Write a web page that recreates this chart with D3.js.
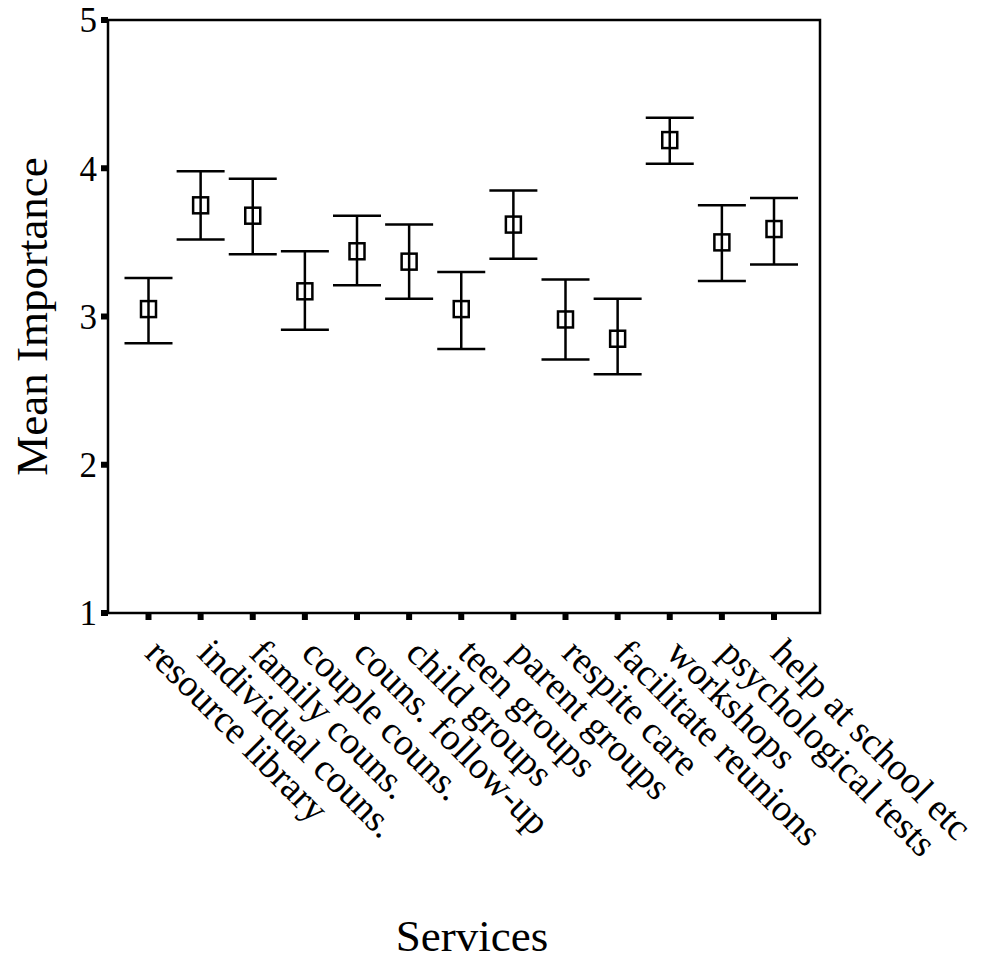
<!DOCTYPE html>
<html lang="en">
<head>
    <meta charset="UTF-8">
    <title>Mean Importance by Service</title>
    <script src="https://d3js.org/d3.v7.min.js"></script>
    <style>
        body {
            margin: 0;
            background: white;
            font-family: "Liberation Serif", "Times New Roman", serif;
        }
    </style>
</head>
<body>
    <div id="chart"></div>

    <script>
// Values (mean and error-bar ends)
const categories = [
  "resource library", "individual couns.", "family couns.", "couple couns.",
  "couns. follow-up", "child groups", "teen groups", "parent groups",
  "respite care", "facilitate reunions", "workshops", "psychological tests",
  "help at school etc"
];
const means = [3.05, 3.75, 3.68, 3.17, 3.44, 3.37, 3.05, 3.62, 2.98, 2.85, 4.19, 3.50, 3.59];
const lower = [2.82, 3.52, 3.42, 2.91, 3.21, 3.12, 2.78, 3.39, 2.71, 2.61, 4.03, 3.24, 3.35];
const upper = [3.26, 3.98, 3.93, 3.44, 3.68, 3.62, 3.30, 3.85, 3.25, 3.12, 4.34, 3.75, 3.80];
const yTicks = [1, 2, 3, 4, 5];

const width = 982;
const height = 964;
const plot = {left: 108, right: 820, top: 20, bottom: 613};

const svg = d3.select("#chart").append("svg")
  .attr("width", width)
  .attr("height", height)
  .style("font-family", "'Liberation Serif', 'Times New Roman', serif");

const x = d3.scalePoint()
  .domain(categories)
  .range([148.5, 774]);

const y = d3.scaleLinear()
  .domain([1, 5])
  .range([plot.bottom, plot.top]);

const rows = categories.map((c, i) => ({name: c, mean: means[i], lo: lower[i], hi: upper[i]}));

// frame
svg.append("rect")
  .attr("x", plot.left)
  .attr("y", plot.top)
  .attr("width", plot.right - plot.left)
  .attr("height", plot.bottom - plot.top)
  .attr("fill", "none")
  .attr("stroke", "black")
  .attr("stroke-width", 2.5);

// y axis ticks and labels
svg.selectAll(".ytick")
  .data(yTicks)
  .enter().append("line")
  .attr("class", "ytick")
  .attr("x1", plot.left - 7)
  .attr("x2", plot.left)
  .attr("y1", d => y(d))
  .attr("y2", d => y(d))
  .attr("stroke", "black")
  .attr("stroke-width", 6);

svg.selectAll(".ylab")
  .data(yTicks)
  .enter().append("text")
  .attr("class", "ylab")
  .attr("x", plot.left - 11)
  .attr("y", d => y(d))
  .attr("dy", "0.35em")
  .attr("text-anchor", "end")
  .attr("font-size", "35px")
  .text(d => d);

// x axis ticks
svg.selectAll(".xtick")
  .data(categories)
  .enter().append("line")
  .attr("class", "xtick")
  .attr("x1", d => x(d))
  .attr("x2", d => x(d))
  .attr("y1", plot.bottom)
  .attr("y2", plot.bottom + 7)
  .attr("stroke", "black")
  .attr("stroke-width", 6);

// rotated category labels
svg.selectAll(".xlab")
  .data(categories)
  .enter().append("text")
  .attr("class", "xlab")
  .attr("transform", d => `translate(${x(d) - 5},${plot.bottom + 42}) rotate(45)`)
  .attr("text-anchor", "start")
  .attr("font-size", "38px")
  .text(d => d);

// error bars
const bars = svg.selectAll(".bar")
  .data(rows)
  .enter().append("g")
  .attr("class", "bar")
  .attr("stroke", "black")
  .attr("stroke-width", 2.5)
  .attr("fill", "none");

bars.append("line")
  .attr("x1", d => x(d.name))
  .attr("x2", d => x(d.name))
  .attr("y1", d => y(d.hi))
  .attr("y2", d => y(d.lo));

bars.append("line")
  .attr("x1", d => x(d.name) - 24)
  .attr("x2", d => x(d.name) + 24)
  .attr("y1", d => y(d.hi))
  .attr("y2", d => y(d.hi));

bars.append("line")
  .attr("x1", d => x(d.name) - 24)
  .attr("x2", d => x(d.name) + 24)
  .attr("y1", d => y(d.lo))
  .attr("y2", d => y(d.lo));

bars.append("rect")
  .attr("x", d => x(d.name) - 7.5)
  .attr("y", d => y(d.mean) - 8)
  .attr("width", 15)
  .attr("height", 16);

// axis titles
svg.append("text")
  .attr("transform", `translate(47,${(plot.top + plot.bottom) / 2}) rotate(-90)`)
  .attr("text-anchor", "middle")
  .attr("font-size", "45px")
  .text("Mean Importance");

svg.append("text")
  .attr("x", 472)
  .attr("y", 951)
  .attr("text-anchor", "middle")
  .attr("font-size", "45px")
  .text("Services");
    </script>
</body>
</html>
